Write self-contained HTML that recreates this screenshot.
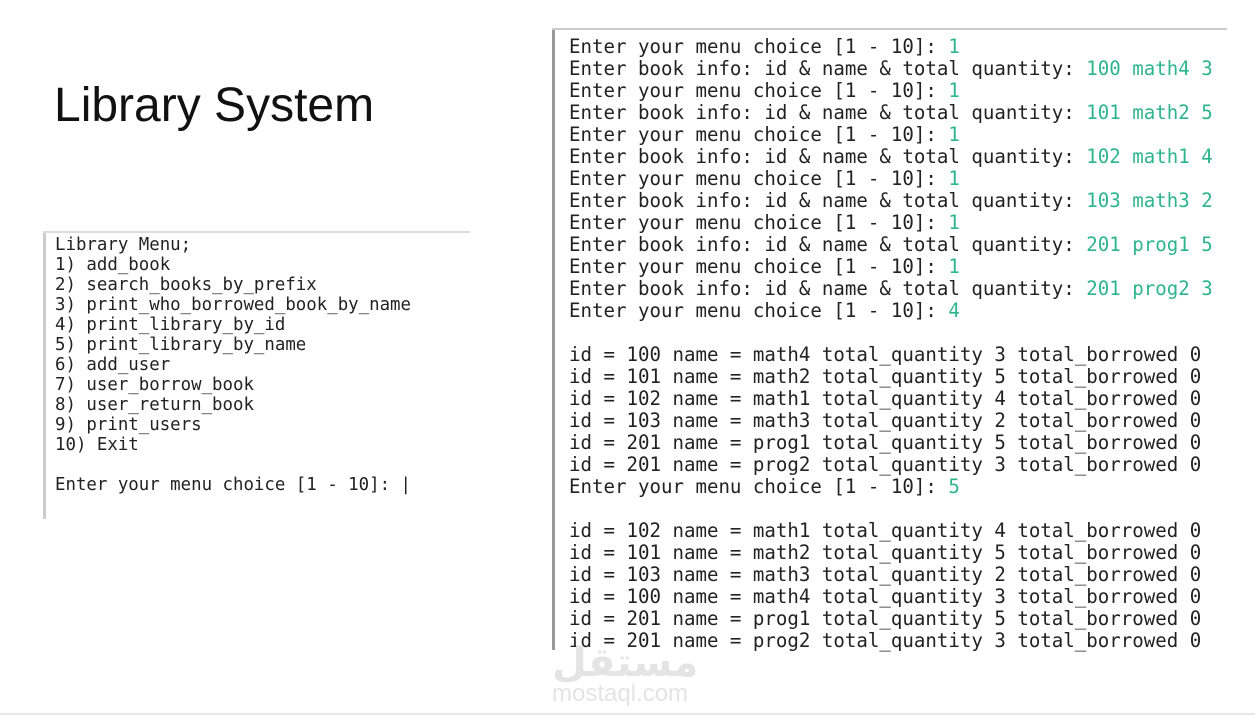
<!DOCTYPE html>
<html><head><meta charset="utf-8"><style>
html,body{margin:0;padding:0;background:#fff;width:1255px;height:720px;overflow:hidden;position:relative}
.t{position:absolute;left:54px;top:78px;font:48px "Liberation Sans",sans-serif;color:#111}
.p{position:absolute;font-family:"DejaVu Sans Mono",monospace;color:#222;white-space:pre}
.g{color:#2db58b}
#L{left:55px;top:235px;font-size:17.4px;line-height:20px}
#R{left:569px;top:36px;font-size:19.1px;line-height:22px}
.b{position:absolute;background:#bbb}
</style></head><body>
<div class="t">Library System</div>
<div class="b" style="left:43px;top:231px;width:3px;height:288px;background:#ccc"></div>
<div class="b" style="left:43px;top:231px;width:427px;height:2px;background:#ddd"></div>
<div class="b" style="left:552px;top:28px;width:3px;height:622px;background:#999"></div>
<div class="b" style="left:552px;top:28px;width:675px;height:2px;background:#ccc"></div>
<div class="b" style="left:0;top:713px;width:1255px;height:2px;background:#e6e6e6"></div>
<div class="p" id="L">Library Menu;
1) add_book
2) search_books_by_prefix
3) print_who_borrowed_book_by_name
4) print_library_by_id
5) print_library_by_name
6) add_user
7) user_borrow_book
8) user_return_book
9) print_users
10) Exit

Enter your menu choice [1 - 10]: |</div>
<div class="p" id="R">Enter your menu choice [1 - 10]: <span class="g">1</span>
Enter book info: id &amp; name &amp; total quantity: <span class="g">100 math4 3</span>
Enter your menu choice [1 - 10]: <span class="g">1</span>
Enter book info: id &amp; name &amp; total quantity: <span class="g">101 math2 5</span>
Enter your menu choice [1 - 10]: <span class="g">1</span>
Enter book info: id &amp; name &amp; total quantity: <span class="g">102 math1 4</span>
Enter your menu choice [1 - 10]: <span class="g">1</span>
Enter book info: id &amp; name &amp; total quantity: <span class="g">103 math3 2</span>
Enter your menu choice [1 - 10]: <span class="g">1</span>
Enter book info: id &amp; name &amp; total quantity: <span class="g">201 prog1 5</span>
Enter your menu choice [1 - 10]: <span class="g">1</span>
Enter book info: id &amp; name &amp; total quantity: <span class="g">201 prog2 3</span>
Enter your menu choice [1 - 10]: <span class="g">4</span>

id = 100 name = math4 total_quantity 3 total_borrowed 0
id = 101 name = math2 total_quantity 5 total_borrowed 0
id = 102 name = math1 total_quantity 4 total_borrowed 0
id = 103 name = math3 total_quantity 2 total_borrowed 0
id = 201 name = prog1 total_quantity 5 total_borrowed 0
id = 201 name = prog2 total_quantity 3 total_borrowed 0
Enter your menu choice [1 - 10]: <span class="g">5</span>

id = 102 name = math1 total_quantity 4 total_borrowed 0
id = 101 name = math2 total_quantity 5 total_borrowed 0
id = 103 name = math3 total_quantity 2 total_borrowed 0
id = 100 name = math4 total_quantity 3 total_borrowed 0
id = 201 name = prog1 total_quantity 5 total_borrowed 0
id = 201 name = prog2 total_quantity 3 total_borrowed 0</div>
<div style="position:absolute;left:552px;top:640px;font:bold 40px 'Liberation Sans','DejaVu Sans',sans-serif;color:#e4e4e4">مستقل</div>
<div style="position:absolute;left:552px;top:680px;font:24px 'Liberation Sans',sans-serif;color:#e4e4e4">mostaql.com</div>
</body></html>
